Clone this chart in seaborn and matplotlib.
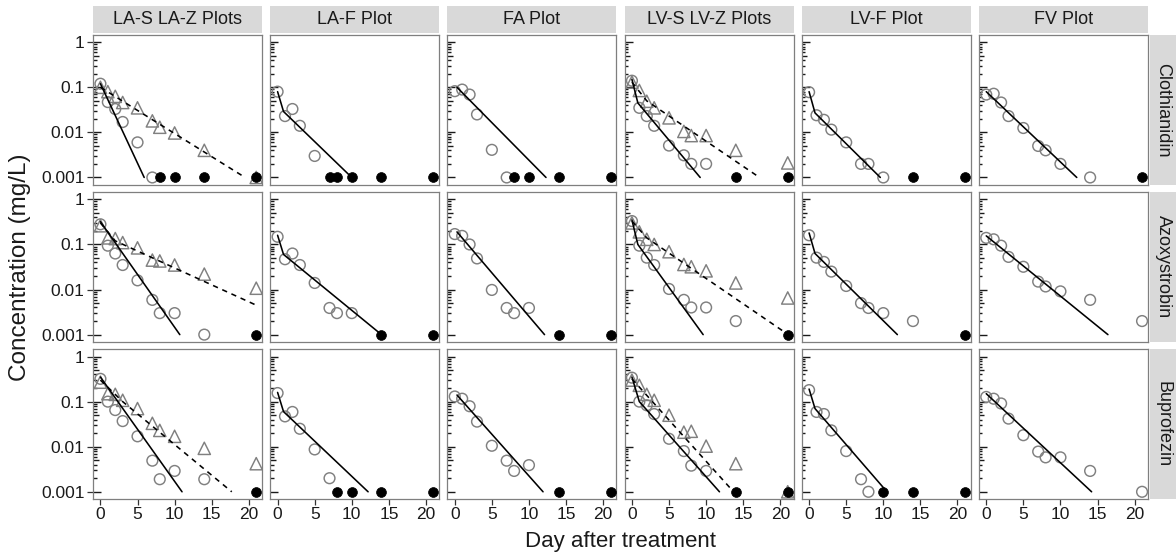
import numpy as np
import pandas as pd
import matplotlib
matplotlib.use("Agg")
import matplotlib.pyplot as plt
from matplotlib.patches import Rectangle
from matplotlib.ticker import NullLocator, FixedLocator, FixedFormatter
import seaborn as sns

# Sampling days after treatment
DAYS = [0, 1, 2, 3, 5, 7, 8, 10, 14, 21]
LOQ = 0.001      # limit of quantification (mg/L)
ND = 0.0         # not detected -> shown as filled dot at LOQ

# ---- Clothianidin residues (mg/L) ----
CLO_LAS = [0.12, 0.047, 0.033, 0.017, 0.006, 0.001, ND, ND, ND, ND]
CLO_LAZ = [0.10, 0.08, 0.063, 0.046, 0.035, 0.018, 0.013, 0.0097, 0.004, 0.001]
CLO_LAF = [0.08, 0.023, 0.033, 0.014, 0.003, ND, ND, ND, ND, ND]
CLO_FA = [0.082, 0.089, 0.069, 0.025, 0.0041, 0.001, ND, ND, ND, ND]
CLO_LVS = [0.14, 0.035, 0.023, 0.014, 0.0051, 0.0031, 0.002, 0.002, ND, ND]
CLO_LVZ = [0.13, 0.085, 0.049, 0.035, 0.021, 0.0105, 0.0085, 0.0085, 0.004, 0.0021]
CLO_LVF = [0.078, 0.024, 0.019, 0.0115, 0.006, 0.002, 0.002, 0.001, ND, ND]
CLO_FV = [0.069, 0.072, 0.046, 0.023, 0.0125, 0.005, 0.004, 0.002, 0.001, ND]

# ---- Azoxystrobin residues (mg/L) ----
AZO_LAS = [0.28, 0.094, 0.063, 0.035, 0.016, 0.0059, 0.003, 0.003, 0.001, ND]
AZO_LAZ = [0.26, 0.14, 0.135, 0.11, 0.084, 0.045, 0.043, 0.035, 0.022, 0.0107]
AZO_LAF = [0.148, 0.047, 0.063, 0.035, 0.014, 0.0039, 0.003, 0.003, ND, ND]
AZO_FA = [0.17, 0.155, 0.10, 0.049, 0.0098, 0.0039, 0.003, 0.0039, ND, ND]
AZO_LVS = [0.33, 0.094, 0.051, 0.035, 0.0103, 0.0059, 0.004, 0.004, 0.002, ND]
AZO_LVZ = [0.30, 0.19, 0.13, 0.10, 0.069, 0.036, 0.032, 0.026, 0.014, 0.0065]
AZO_LVF = [0.16, 0.051, 0.041, 0.025, 0.012, 0.005, 0.0039, 0.003, 0.002, ND]
AZO_FV = [0.14, 0.13, 0.094, 0.053, 0.032, 0.015, 0.0117, 0.0091, 0.0059, 0.002]

# ---- Buprofezin residues (mg/L) ----
BUP_LAS = [0.32, 0.10, 0.065, 0.037, 0.017, 0.0049, 0.0019, 0.0029, 0.0019, ND]
BUP_LAZ = [0.27, 0.15, 0.145, 0.107, 0.07, 0.033, 0.023, 0.017, 0.0092, 0.0042]
BUP_LAF = [0.155, 0.047, 0.059, 0.025, 0.0087, 0.002, ND, ND, ND, ND]
BUP_FA = [0.13, 0.116, 0.079, 0.036, 0.0105, 0.0049, 0.0029, 0.0039, ND, ND]
BUP_LVS = [0.34, 0.10, 0.083, 0.053, 0.015, 0.008, 0.0038, 0.0029, ND, ND]
BUP_LVZ = [0.30, 0.23, 0.145, 0.107, 0.05, 0.021, 0.022, 0.0103, 0.0042, 0.001]
BUP_LVF = [0.18, 0.059, 0.053, 0.023, 0.008, 0.0019, 0.001, ND, ND, ND]
BUP_FV = [0.127, 0.116, 0.091, 0.042, 0.018, 0.0078, 0.0058, 0.0058, 0.0029, 0.001]

# ---- Fitted dissipation curves: (day, mg/L) knots ----
FIT_CLO_LAS = [(0, 0.12), (5.9, 0.001)]
FIT_CLO_LAZ = [(0, 0.10), (19.5, 0.001)]
FIT_CLO_LAF = [(0, 0.08), (0.8, 0.029), (10, 0.001)]
FIT_CLO_FA = [(0.3, 0.10), (12.3, 0.001)]
FIT_CLO_LVS = [(0, 0.15), (0.8, 0.045), (9.2, 0.001)]
FIT_CLO_LVZ = [(0, 0.13), (2, 0.05), (17.2, 0.001)]
FIT_CLO_LVF = [(0, 0.08), (0.8, 0.027), (9.6, 0.001)]
FIT_CLO_FV = [(0, 0.08), (12.2, 0.001)]

FIT_AZO_LAS = [(0, 0.32), (10.7, 0.001)]
FIT_AZO_LAZ = [(0, 0.30), (2, 0.12), (21, 0.0045)]
FIT_AZO_LAF = [(0, 0.16), (0.8, 0.06), (14, 0.001)]
FIT_AZO_FA = [(0.3, 0.19), (12.1, 0.001)]
FIT_AZO_LVS = [(0, 0.35), (0.8, 0.10), (9.6, 0.001)]
FIT_AZO_LVZ = [(0, 0.33), (2, 0.14), (20.7, 0.0011)]
FIT_AZO_LVF = [(0, 0.18), (0.8, 0.063), (11.9, 0.001)]
FIT_AZO_FV = [(0, 0.155), (16.4, 0.001)]

FIT_BUP_LAS = [(0, 0.35), (11, 0.001)]
FIT_BUP_LAZ = [(0, 0.30), (3, 0.10), (17.7, 0.001)]
FIT_BUP_LAF = [(0, 0.16), (0.8, 0.06), (12.2, 0.001)]
FIT_BUP_FA = [(0.3, 0.14), (11.9, 0.001)]
FIT_BUP_LVS = [(0, 0.35), (1, 0.10), (11.8, 0.001)]
FIT_BUP_LVZ = [(0, 0.32), (13.7, 0.001)]
FIT_BUP_LVF = [(0, 0.19), (0.8, 0.07), (10.5, 0.001)]
FIT_BUP_FV = [(0, 0.15), (14.2, 0.001)]

COMPOUNDS = ["Clothianidin", "Azoxystrobin", "Buprofezin"]
PLOTS = ["LA-S LA-Z Plots", "LA-F Plot", "FA Plot",
         "LV-S LV-Z Plots", "LV-F Plot", "FV Plot"]

XTICKS = [0, 5, 10, 15, 20]
YTICKS = [1, 0.1, 0.01, 0.001]
YTICKLABELS = ["1", "0.1", "0.01", "0.001"]

# "S" = open circle + solid fit, "Z" = open triangle + dashed fit
SERIES = [
    ("Clothianidin", "LA-S LA-Z Plots", "S", CLO_LAS, FIT_CLO_LAS),
    ("Clothianidin", "LA-S LA-Z Plots", "Z", CLO_LAZ, FIT_CLO_LAZ),
    ("Clothianidin", "LA-F Plot", "S", CLO_LAF, FIT_CLO_LAF),
    ("Clothianidin", "FA Plot", "S", CLO_FA, FIT_CLO_FA),
    ("Clothianidin", "LV-S LV-Z Plots", "S", CLO_LVS, FIT_CLO_LVS),
    ("Clothianidin", "LV-S LV-Z Plots", "Z", CLO_LVZ, FIT_CLO_LVZ),
    ("Clothianidin", "LV-F Plot", "S", CLO_LVF, FIT_CLO_LVF),
    ("Clothianidin", "FV Plot", "S", CLO_FV, FIT_CLO_FV),
    ("Azoxystrobin", "LA-S LA-Z Plots", "S", AZO_LAS, FIT_AZO_LAS),
    ("Azoxystrobin", "LA-S LA-Z Plots", "Z", AZO_LAZ, FIT_AZO_LAZ),
    ("Azoxystrobin", "LA-F Plot", "S", AZO_LAF, FIT_AZO_LAF),
    ("Azoxystrobin", "FA Plot", "S", AZO_FA, FIT_AZO_FA),
    ("Azoxystrobin", "LV-S LV-Z Plots", "S", AZO_LVS, FIT_AZO_LVS),
    ("Azoxystrobin", "LV-S LV-Z Plots", "Z", AZO_LVZ, FIT_AZO_LVZ),
    ("Azoxystrobin", "LV-F Plot", "S", AZO_LVF, FIT_AZO_LVF),
    ("Azoxystrobin", "FV Plot", "S", AZO_FV, FIT_AZO_FV),
    ("Buprofezin", "LA-S LA-Z Plots", "S", BUP_LAS, FIT_BUP_LAS),
    ("Buprofezin", "LA-S LA-Z Plots", "Z", BUP_LAZ, FIT_BUP_LAZ),
    ("Buprofezin", "LA-F Plot", "S", BUP_LAF, FIT_BUP_LAF),
    ("Buprofezin", "FA Plot", "S", BUP_FA, FIT_BUP_FA),
    ("Buprofezin", "LV-S LV-Z Plots", "S", BUP_LVS, FIT_BUP_LVS),
    ("Buprofezin", "LV-S LV-Z Plots", "Z", BUP_LVZ, FIT_BUP_LVZ),
    ("Buprofezin", "LV-F Plot", "S", BUP_LVF, FIT_BUP_LVF),
    ("Buprofezin", "FV Plot", "S", BUP_FV, FIT_BUP_FV),
]

# ---- long-form tables ----
pt_rows, fit_rows = [], []
for comp, panel, kind, values, fit in SERIES:
    for d, v in zip(DAYS, values):
        detected = v > 0
        pt_rows.append(dict(compound=comp, panel=panel, kind=kind, day=d,
                            conc=v if detected else LOQ, detected=detected))
    for d, v in fit:
        fit_rows.append(dict(compound=comp, panel=panel, kind=kind, day=d, conc=v))
points = pd.DataFrame(pt_rows)
fits = pd.DataFrame(fit_rows)

# ---- styling ----
sns.set_theme(style="white")
plt.rcParams["font.family"] = ["Liberation Sans", "DejaVu Sans"]
TEXT = "#1a1a1a"
EDGE = "#808080"
FRAME = "#7f7f7f"
STRIP = "#d9d9d9"

W, H = 1176, 556
g = sns.FacetGrid(points, row="compound", col="panel",
                  row_order=COMPOUNDS, col_order=PLOTS,
                  sharex=True, sharey=True, despine=False,
                  height=1.5, aspect=1.13)
fig = g.figure
fig.set_size_inches(W / 100, H / 100)
fig.set_dpi(100)
fig.subplots_adjust(left=93 / W, right=1148 / W, top=1 - 35 / H,
                    bottom=1 - 499 / H, wspace=0.0473, hspace=0.05)

XLIM = (-1.0, 21.8)
YLIM = (10 ** -3.16, 10 ** 0.16)

LONG, MID, SHORT = 8.0, 5.5, 3.5   # log tick lengths in pixels


def draw_logticks(ax):
    trans = ax.get_yaxis_transform()
    width_px = ax.get_position().width * W
    for k in range(-3, 1):
        for m in range(1, 10):
            v = m * 10.0 ** k
            if v > 1.0001:
                break
            L = LONG if m == 1 else (MID if m == 5 else SHORT)
            ax.plot([0, L / width_px], [v, v], transform=trans, color="#1a1a1a",
                    lw=1.0, solid_capstyle="butt", zorder=2)


for (comp, panel), ax in g.axes_dict.items():
    ax.set_yscale("log")
    sub = points[(points["compound"] == comp) & (points["panel"] == panel)]
    fsub = fits[(fits["compound"] == comp) & (fits["panel"] == panel)]

    # open symbols for quantified residues
    for kind, marker, size in (("S", "o", 60), ("Z", "^", 78)):
        dsub = sub[(sub["kind"] == kind) & sub["detected"]]
        if len(dsub):
            sns.scatterplot(data=dsub, x="day", y="conc", ax=ax, marker=marker,
                            s=size, facecolor="none", edgecolor=EDGE,
                            linewidth=1.05, zorder=3, legend=False)

    # fitted decline curves
    for kind, ls in (("S", "-"), ("Z", (0, (3.3, 3.0)))):
        ksub = fsub[fsub["kind"] == kind]
        if len(ksub):
            sns.lineplot(data=ksub, x="day", y="conc", ax=ax, color="black",
                         linewidth=1.15, linestyle=ls, sort=False,
                         estimator=None, zorder=4, legend=False)

    # not-detected samples at LOQ
    nd = sub[~sub["detected"]]
    if len(nd):
        sns.scatterplot(data=nd, x="day", y="conc", ax=ax, marker="o", s=50,
                        color="black", edgecolor="black", linewidth=0.5,
                        zorder=5, legend=False, clip_on=False)

    draw_logticks(ax)

    ax.set_xlabel("")
    ax.set_ylabel("")
    ax.set_title("")
    for sp in ax.spines.values():
        sp.set_color(FRAME)
        sp.set_linewidth(0.9)

# shared axes: configure locators/formatters once, after all drawing
ax0 = g.axes[0, 0]
ax0.set_xlim(*XLIM)
ax0.set_ylim(*YLIM)
ax0.xaxis.set_major_locator(FixedLocator(XTICKS))
ax0.xaxis.set_minor_locator(NullLocator())
ax0.yaxis.set_major_locator(FixedLocator(YTICKS))
ax0.yaxis.set_major_formatter(FixedFormatter(YTICKLABELS))
ax0.yaxis.set_minor_locator(NullLocator())

for (comp, panel), ax in g.axes_dict.items():
    r = COMPOUNDS.index(comp)
    c = PLOTS.index(panel)
    if c == 0:
        ax.tick_params(axis="y", which="major", direction="out", length=4,
                       width=0.9, color="#333333", pad=2, labelsize=12.5,
                       labelcolor=TEXT, left=True, labelleft=True)
        for lab in ax.get_yticklabels():
            lab.set_visible(True)
    else:
        ax.tick_params(axis="y", which="both", length=0, labelleft=False)
    if r == len(COMPOUNDS) - 1:
        ax.tick_params(axis="x", which="major", direction="out", length=4,
                       width=0.9, color="#333333", pad=2, labelsize=12.5,
                       labelcolor=TEXT, bottom=True, labelbottom=True)
    else:
        ax.tick_params(axis="x", which="both", length=0, labelbottom=False)

    # facet strips
    pos = ax.get_position()
    if r == 0:
        fig.patches.append(Rectangle((pos.x0, 1 - 33 / H), pos.width, 27 / H,
                                     transform=fig.transFigure, facecolor=STRIP,
                                     edgecolor="none", zorder=0))
        fig.text(pos.x0 + pos.width / 2, 1 - 19.5 / H, panel, ha="center",
                 va="center", fontsize=13, color=TEXT)
    if c == len(PLOTS) - 1:
        fig.patches.append(Rectangle((1150 / W, pos.y0), 26 / W, pos.height,
                                     transform=fig.transFigure, facecolor=STRIP,
                                     edgecolor="none", zorder=0))
        fig.text(1163 / W, pos.y0 + pos.height / 2, comp, ha="center",
                 va="center", rotation=270, fontsize=13, color=TEXT)

fig.text((93 + 1148) / 2 / W, 1 - 541 / H, "Day after treatment",
         ha="center", va="center", fontsize=16, color=TEXT)
fig.text(20 / W, 1 - 267 / H, "Concentration (mg/L)", ha="center",
         va="center", rotation=90, fontsize=17.5, color=TEXT)

fig.savefig("out.png", dpi=100, facecolor="white")
